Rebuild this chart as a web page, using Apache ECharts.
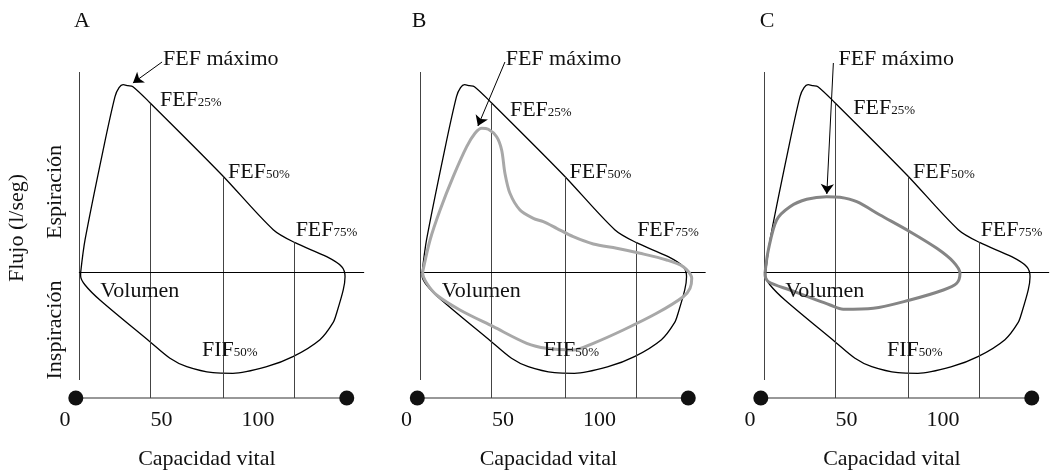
<!DOCTYPE html>
<html>
<head>
<meta charset="utf-8">
<script src="https://cdn.jsdelivr.net/npm/echarts@6.0.0/dist/echarts.min.js"></script>
<style>
html, body { margin: 0; padding: 0; background: #fff; }
#chart { width: 1054px; height: 475px; }
</style>
</head>
<body>
<div id="chart"></div>
<script>
// curva flujo-volumen normal (x: capacidad vital, y: flujo)
const normalLoop = [
  [8.1, 0], [10.4, 3.3], [19.8, 12.3], [25.9, 17.6], [28.0, 18.5], [30.1, 18.8],
  [32.6, 18.7], [35.2, 18.6], [44.0, 17.0], [81.2, 9.8], [107.9, 4.3], [119.2, 3.0],
  [135.6, 1.6], [143.4, 0.6], [145.1, -0.4], [144.2, -1.7], [140.8, -4.0], [138.9, -5.0],
  [132.1, -6.7], [118.1, -8.4], [104.5, -9.4], [87.0, -10.06], [76.7, -10.0], [63.1, -9.4],
  [54.4, -8.56], [44.0, -6.9], [18.1, -2.73], [10.4, -1.23], [8.1, -0.33], [8.1, 0]
]
// B: obstructiva
const loopB = [
  [8.4, 0.1], [12.2, 3.27], [17.4, 6.27], [24.2, 9.6], [31.2, 12.6], [35.5, 13.94],
  [39.0, 14.44], [42.4, 14.34], [46.7, 13.6], [49.3, 12.27], [51.0, 9.94], [53.6, 7.94],
  [58.8, 6.27], [65.7, 5.44], [70.9, 5.1], [77.8, 4.44], [86.4, 3.6], [96.8, 2.87],
  [108.9, 2.44], [121.0, 1.94], [134.8, 1.27], [143.4, 0.6], [147.8, -0.56], [146.9, -1.56],
  [143.4, -2.4], [129.6, -4.06], [112.3, -5.73], [96.8, -7.06], [86.4, -7.73], [72.6, -7.56],
  [62.3, -7.06], [45.0, -5.4], [27.7, -3.73], [15.6, -2.23], [10.5, -1.06], [8.4, -0.06], [8.4, 0.1]
]
// C: restrictiva
const loopC = [
  [7.8, 0], [9.5, 2.27], [13.8, 5.27], [20.7, 6.6], [29.4, 7.34], [39.7, 7.6], [46.6, 7.54],
  [55.3, 7.1], [67.4, 5.77], [82.9, 4.1], [96.8, 2.44], [105.3, 1.1], [108.8, -0.06],
  [107.1, -1.06], [100.2, -1.73], [82.9, -2.73], [63.9, -3.56], [48.3, -3.66], [41.5, -3.23],
  [20.7, -1.73], [9.5, -0.9], [7.8, -0.23], [7.8, 0]
]
const fefX = [44, 82, 118.8]
const fefTop = [16.9, 9.6, 3.05]
const tickValues = [0, 50, 100]
const panelNames = ['A', 'B', 'C']
const baseLine = [[5.6, -12.53], [146, -12.53]]
const yLine = [[7.2, 20.07], [7.2, -10.73]]
const zeroLine = [[7.2, 0], [155, 0]]
const fefMaxLabel = [[50.8, 21.37], [51.4, 21.37], [45.8, 21.37]]
const arrowFrom = [[50.3, 21.07], [51.0, 21.07], [43.2, 20.97]]
const arrowTo = [[35.2, 18.97], [37.0, 14.67], [39.8, 7.87]]
const fef25Label = [[49.2, 17.27], [53.6, 16.27], [53.5, 16.47]]
const fef50Label = [84.5, 10.07]
const fef75Label = [119.5, 4.27]
const volumenLabel = [18.3, -1.85]
const fif50Label = [71, -7.73]

const FONT = 'Liberation Serif'
const TEXT = '#111'
const gridLeft = [45.7, 387.2, 730.7]
const abnormal = [null, { data: loopB, color: '#a8a8a8' }, { data: loopC, color: '#858585' }]

const chart = echarts.init(document.getElementById('chart'))

const grids = []
const xAxes = []
const yAxes = []
const series = []

panelNames.forEach((p, i) => {
  grids.push({ left: gridLeft[i], width: 322.3, top: 30, bottom: 75 })
  xAxes.push({
    gridIndex: i, type: 'value', min: -10, max: 157,
    axisLine: { show: false }, axisTick: { show: false }, splitLine: { show: false },
    axisLabel: { customValues: tickValues, margin: 9, fontSize: 22, fontFamily: FONT, color: TEXT },
    name: 'Capacidad vital', nameLocation: 'middle', nameGap: 48,
    nameTextStyle: { fontSize: 22, fontFamily: FONT, color: TEXT }
  })
  yAxes.push({
    gridIndex: i, type: 'value', min: -12.73, max: 24.27,
    axisLine: { show: false }, axisTick: { show: false }, splitLine: { show: false },
    axisLabel: { show: false }
  })

  const vLines = fefX.map((x, k) => [{ coord: [x, fefTop[k]] }, { coord: [x, baseLine[0][1]] }])

  series.push({
    type: 'line', xAxisIndex: i, yAxisIndex: i, data: normalLoop,
    showSymbol: false, smooth: 0.3, z: 3,
    lineStyle: { color: '#000', width: 1.3 },
    markLine: {
      silent: true, symbol: 'none', label: { show: false },
      lineStyle: { color: '#444', width: 1, type: 'solid' },
      data: [
        ...vLines,
        [{ coord: yLine[0] }, { coord: yLine[1] }],
        [{ coord: zeroLine[0], lineStyle: { color: '#000', width: 1.2 } }, { coord: zeroLine[1] }]
      ]
    }
  })

  series.push({
    type: 'line', xAxisIndex: i, yAxisIndex: i, data: baseLine,
    symbol: 'circle', symbolSize: 15, z: 4,
    itemStyle: { color: '#111' },
    lineStyle: { color: '#333', width: 1.2 }
  })

  if (abnormal[i]) {
    series.push({
      type: 'line', xAxisIndex: i, yAxisIndex: i, data: abnormal[i].data,
      showSymbol: false, smooth: 0.3, z: 5,
      lineStyle: { color: abnormal[i].color, width: 3 }
    })
  }

  series.push({
    type: 'scatter', xAxisIndex: i, yAxisIndex: i, symbolSize: 0, clip: false, z: 6,
    itemStyle: { opacity: 1 },
    label: {
      show: true, position: 'right', distance: 0, opacity: 1,
      fontSize: 22, fontFamily: FONT, color: TEXT,
      formatter: (d) => d.name,
      rich: {
        s: { fontSize: 13, fontFamily: FONT, color: TEXT, padding: [6, 0, 0, 0] }
      }
    },
    data: [
      { name: 'FEF máximo', value: fefMaxLabel[i] },
      { name: 'FEF{s|25%}', value: fef25Label[i] },
      { name: 'FEF{s|50%}', value: fef50Label },
      { name: 'FEF{s|75%}', value: fef75Label },
      { name: 'Volumen', value: volumenLabel },
      { name: 'FIF{s|50%}', value: fif50Label }
    ],
    markLine: {
      silent: true, symbol: ['none', 'arrow'], symbolSize: 10,
      label: { show: false },
      lineStyle: { color: '#000', width: 1, type: 'solid', opacity: 1 },
      data: [[{ coord: arrowFrom[i] }, { coord: arrowTo[i] }]]
    }
  })
})

const titleX = [82, 419, 767]
const graphic = panelNames.map((p, i) => ({
  type: 'text', x: titleX[i], y: 21,
  style: { text: p, font: '22px "' + FONT + '"', fill: TEXT, align: 'center', verticalAlign: 'middle' }
}))
graphic.push(
  { type: 'text', x: 17, y: 228, rotation: Math.PI / 2,
    style: { text: 'Flujo (l/seg)', font: '22px "' + FONT + '"', fill: TEXT, align: 'center', verticalAlign: 'middle' } },
  { type: 'text', x: 55, y: 192, rotation: Math.PI / 2,
    style: { text: 'Espiración', font: '22px "' + FONT + '"', fill: TEXT, align: 'center', verticalAlign: 'middle' } },
  { type: 'text', x: 55, y: 330, rotation: Math.PI / 2,
    style: { text: 'Inspiración', font: '22px "' + FONT + '"', fill: TEXT, align: 'center', verticalAlign: 'middle' } }
)

chart.setOption({
  animation: false,
  backgroundColor: '#fff',
  grid: grids,
  xAxis: xAxes,
  yAxis: yAxes,
  graphic: graphic,
  series: series
})
</script>
</body>
</html>
